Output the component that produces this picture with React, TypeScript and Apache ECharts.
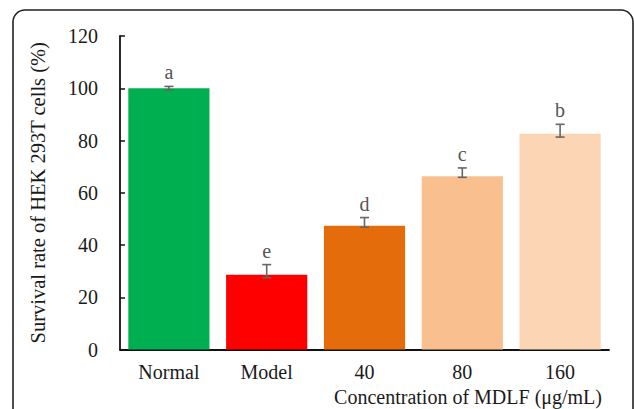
import React, { useEffect, useRef } from "react";
import * as echarts from "echarts";

const categories = ["Normal", "Model", "40", "80", "160"];
const survival = [100, 28.6, 47.4, 66.3, 82.6];
const errLow = [99.4, 27.5, 46.8, 65.9, 81.3];
const errHigh = [100.7, 32.5, 50.5, 69.5, 86.2];
const sigLetters = ["a", "e", "d", "c", "b"];
const barColors = ["#00B050", "#FF0000", "#E46C0A", "#F9BF8F", "#FCD5B5"];
const yTicks = { min: 0, max: 120, interval: 20 };

const FONT = "Liberation Serif";

export default function App() {
  const ref = useRef<HTMLDivElement>(null);
  useEffect(() => {
    document.body.style.margin = "0";
    const chart = echarts.init(ref.current!, null, { renderer: "svg" });
    const errData = categories.map((_, i) => [i, errLow[i], errHigh[i], i]);
    chart.setOption({
      animation: false,
      backgroundColor: "#ffffff",
      textStyle: { fontFamily: FONT },
      grid: { left: 120, right: 25, top: 36, bottom: 59.5, containLabel: false },
      xAxis: {
        type: "category",
        data: categories,
        axisLine: { lineStyle: { color: "#111", width: 1.8 } },
        axisTick: { inside: true, length: 5, lineStyle: { color: "#111", width: 1.5 } },
        axisLabel: { color: "#1a1a1a", fontFamily: FONT, fontSize: 20, margin: 12 },
      },
      yAxis: {
        type: "value",
        min: yTicks.min,
        max: yTicks.max,
        interval: yTicks.interval,
        name: "Survival rate of HEK 293T cells (%)",
        nameLocation: "middle",
        nameGap: 72,
        nameTextStyle: { color: "#1a1a1a", fontFamily: FONT, fontSize: 20.5 },
        axisLine: { show: true, lineStyle: { color: "#111", width: 1.8 } },
        axisTick: { show: true, inside: true, length: 5, lineStyle: { color: "#111", width: 1.5 } },
        axisLabel: { color: "#1a1a1a", fontFamily: FONT, fontSize: 20, margin: 22 },
        splitLine: { show: false },
      },
      graphic: [
        {
          type: "rect",
          shape: { x: 13, y: 10, width: 620, height: 430, r: 12 },
          style: { fill: "none", stroke: "#222", lineWidth: 1.6 },
          silent: true,
        },
        {
          type: "text",
          right: 32,
          top: 387,
          style: {
            text: "Concentration of MDLF (μg/mL)",
            fill: "#1a1a1a",
            fontFamily: FONT,
            fontSize: 20,
          },
        },
      ],
      series: [
        {
          type: "bar",
          data: survival.map((v, i) => ({ value: v, itemStyle: { color: barColors[i] } })),
          barWidth: "83%",
        },
        {
          type: "custom",
          data: errData,
          z: 10,
          renderItem: (params: any, api: any) => {
            const idx = api.value(0);
            const lo = api.coord([idx, api.value(1)]);
            const hi = api.coord([idx, api.value(2)]);
            const letter = sigLetters[api.value(3)];
            const x = lo[0];
            const cap = 4.5;
            const ls = { stroke: "#666", lineWidth: 1.6 };
            return {
              type: "group",
              children: [
                { type: "line", shape: { x1: x, y1: lo[1], x2: x, y2: hi[1] }, style: ls },
                { type: "line", shape: { x1: x - cap, y1: lo[1], x2: x + cap, y2: lo[1] }, style: ls },
                { type: "line", shape: { x1: x - cap, y1: hi[1], x2: x + cap, y2: hi[1] }, style: ls },
                {
                  type: "text",
                  style: {
                    text: letter,
                    x: x,
                    y: hi[1] - 14,
                    textAlign: "center",
                    textVerticalAlign: "middle",
                    fill: "#555",
                    fontFamily: FONT,
                    fontSize: 20,
                  },
                },
              ],
            };
          },
        },
      ],
    });
    return () => chart.dispose();
  }, []);
  return <div ref={ref} style={{ width: 634, height: 409 }} />;
}
